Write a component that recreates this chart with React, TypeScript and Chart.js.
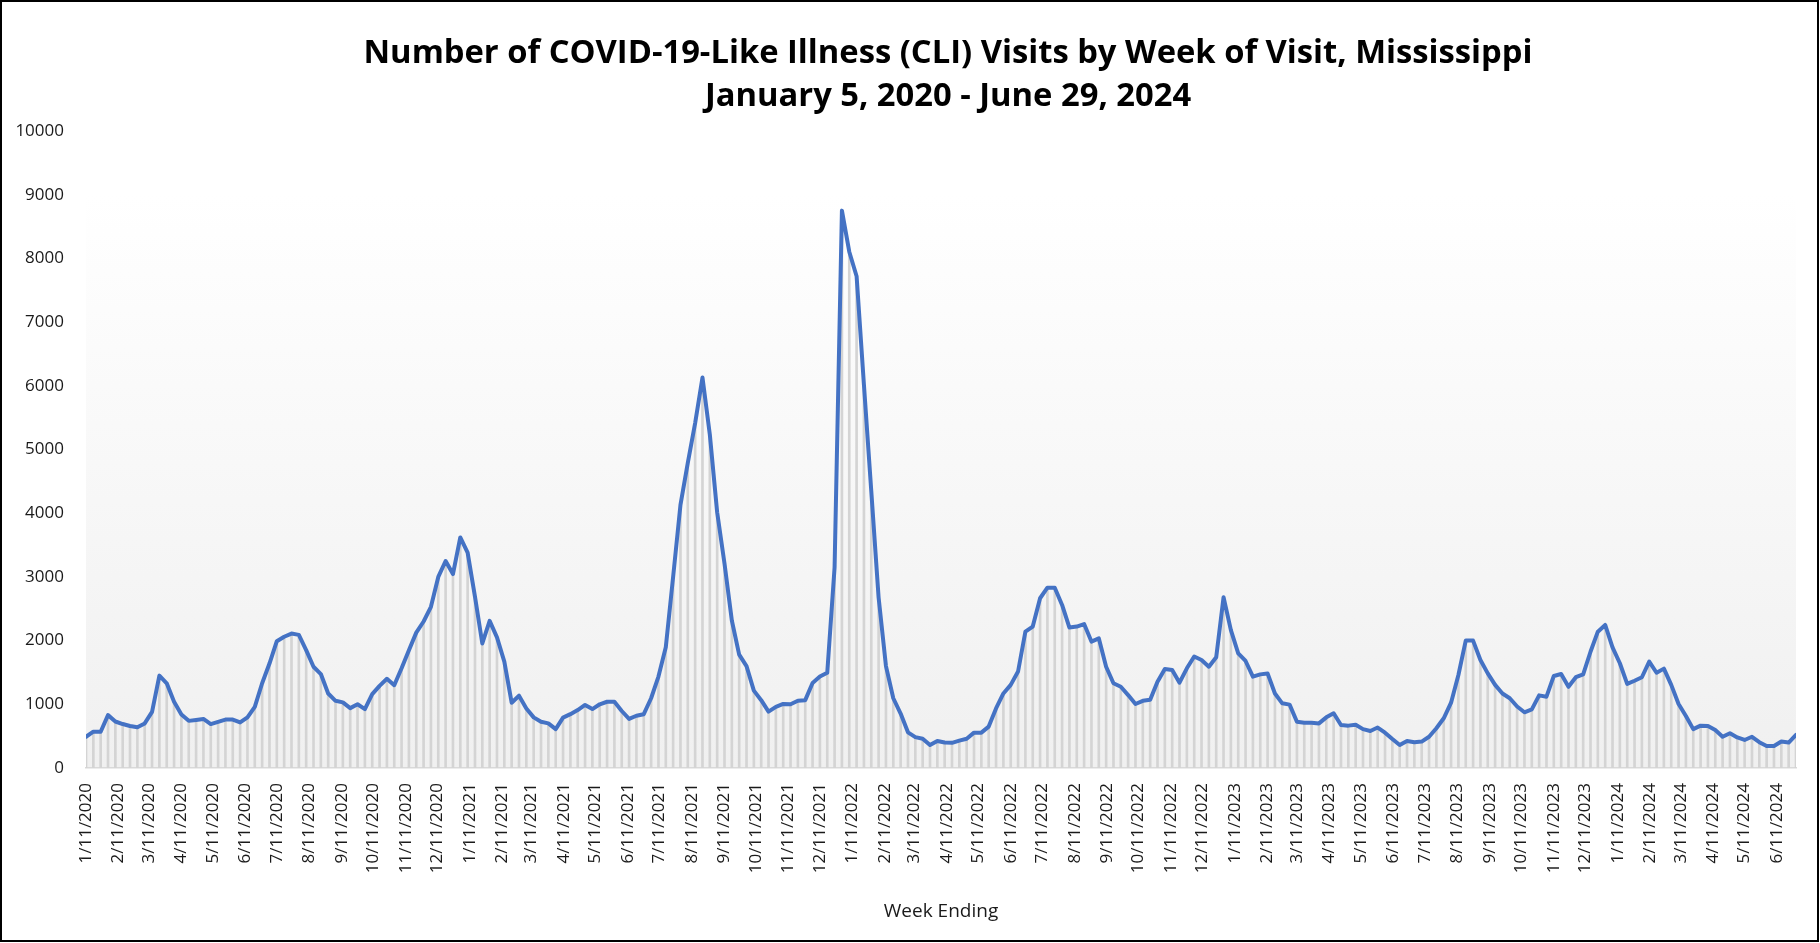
import React, { useEffect, useRef } from "react";
import { Chart, registerables } from "chart.js";

Chart.register(...registerables);

const TITLE_LINES = [
  "Number of COVID-19-Like Illness (CLI) Visits by Week of Visit, Mississippi",
  "January 5, 2020 - June 29, 2024",
];
const X_AXIS_TITLE = "Week Ending";

// first week-ending date of the series (weekly points follow every 7 days)
const FIRST_WEEK_ENDING = "1/11/2020";
const LAST_WEEK_ENDING = "6/29/2024";

const weeklyVisits = [
  490, 570, 570, 830, 730, 690, 660, 640, 700, 880,
  1450, 1330, 1040, 840, 740, 755, 770, 690, 725, 760,
  760, 715, 795, 960, 1330, 1640, 1990, 2060, 2110, 2090,
  1850, 1590, 1475, 1170, 1055, 1030, 940, 1000, 925, 1160,
  1290, 1400, 1300, 1565, 1850, 2125, 2300, 2530, 3000, 3250,
  3045, 3620, 3380, 2690, 1955, 2310, 2050, 1670, 1025, 1135,
  935, 795, 725, 700, 610, 790, 845, 910, 990, 925,
  1000, 1040, 1040, 895, 770, 820, 845, 1095, 1435, 1895,
  3000, 4130, 4790, 5415, 6130, 5235, 4015, 3210, 2315, 1780,
  1600, 1215, 1065, 885, 960, 1005, 1000, 1055, 1065, 1335,
  1435, 1495, 3150, 8750, 8105, 7720, 6015, 4345, 2675, 1600,
  1095, 855, 560, 485, 460, 360, 425, 400, 395, 430,
  460, 555, 555, 650, 935, 1170, 1305, 1515, 2140, 2220,
  2665, 2830, 2830, 2560, 2205, 2220, 2260, 1985, 2035, 1590,
  1330, 1275, 1145, 1005, 1055, 1070, 1355, 1555, 1540, 1340,
  1565, 1750, 1695, 1590, 1740, 2680, 2165, 1800, 1680, 1435,
  1470, 1485, 1170, 1015, 995, 725, 710, 710, 700, 795,
  860, 675, 665, 680, 610, 580, 635, 555, 455, 360,
  425, 405, 415, 490, 625, 780, 1025, 1460, 2000, 2000,
  1695, 1485, 1305, 1170, 1095, 965, 875, 920, 1140, 1120,
  1445, 1475, 1275, 1425, 1470, 1825, 2140, 2245, 1895, 1645,
  1320, 1370, 1425, 1670, 1495, 1560, 1305, 1005, 815, 610,
  665, 660, 595, 490, 545, 480, 440, 490, 405, 345,
  345, 415, 400, 520,
];

const monthTickLabels = [
  "1/11/2020", "2/11/2020", "3/11/2020", "4/11/2020", "5/11/2020", "6/11/2020",
  "7/11/2020", "8/11/2020", "9/11/2020", "10/11/2020", "11/11/2020", "12/11/2020",
  "1/11/2021", "2/11/2021", "3/11/2021", "4/11/2021", "5/11/2021", "6/11/2021",
  "7/11/2021", "8/11/2021", "9/11/2021", "10/11/2021", "11/11/2021", "12/11/2021",
  "1/11/2022", "2/11/2022", "3/11/2022", "4/11/2022", "5/11/2022", "6/11/2022",
  "7/11/2022", "8/11/2022", "9/11/2022", "10/11/2022", "11/11/2022", "12/11/2022",
  "1/11/2023", "2/11/2023", "3/11/2023", "4/11/2023", "5/11/2023", "6/11/2023",
  "7/11/2023", "8/11/2023", "9/11/2023", "10/11/2023", "11/11/2023", "12/11/2023",
  "1/11/2024", "2/11/2024", "3/11/2024", "4/11/2024", "5/11/2024", "6/11/2024",
];

const yTickValues = [0, 1000, 2000, 3000, 4000, 5000, 6000, 7000, 8000, 9000, 10000];
const yTickLabels = ["0", "1000", "2000", "3000", "4000", "5000", "6000", "7000", "8000", "9000", "10000"];

const FONT = "'Open Sans', 'Noto Sans', sans-serif";
const DAY_MS = 86400000;

function parseDate(label: string): number {
  const [m, d, y] = label.split("/").map(Number);
  return Date.UTC(y, m - 1, d);
}

export default function App() {
  const canvasRef = useRef<HTMLCanvasElement | null>(null);

  useEffect(() => {
    document.body.style.margin = "0";
    const canvas = canvasRef.current;
    if (!canvas) return;

    const start = parseDate(FIRST_WEEK_ENDING);
    const end = parseDate(LAST_WEEK_ENDING);
    const toDay = (label: string) => (parseDate(label) - start) / DAY_MS;
    const points = weeklyVisits.map((v, i) => ({ x: i * 7, y: v }));
    const tickDays = monthTickLabels.map(toDay);
    const labelByDay: Record<number, string> = {};
    tickDays.forEach((d, i) => (labelByDay[d] = monthTickLabels[i]));
    const yLabelByValue: Record<number, string> = {};
    yTickValues.forEach((v, i) => (yLabelByValue[v] = yTickLabels[i]));

    const backgroundPlugin = {
      id: "plotBackground",
      beforeDraw(chart: any) {
        const { ctx, chartArea } = chart;
        ctx.save();
        ctx.fillStyle = "#ffffff";
        ctx.fillRect(0, 0, chart.width, chart.height);
        const g = ctx.createLinearGradient(0, chartArea.top, 0, chartArea.bottom);
        g.addColorStop(0, "#ffffff");
        g.addColorStop(0.1, "#ffffff");
        g.addColorStop(1, "#f0f0f0");
        ctx.fillStyle = g;
        ctx.fillRect(chartArea.left, chartArea.top, chartArea.right - chartArea.left, chartArea.bottom - chartArea.top);
        ctx.restore();
      },
    };

    const titlePlugin = {
      id: "twoLineTitle",
      afterDraw(chart: any) {
        const { ctx } = chart;
        ctx.save();
        ctx.fillStyle = "#000000";
        ctx.textAlign = "center";
        ctx.textBaseline = "middle";
        ctx.font = `bold 32px ${FONT}`;
        const cx = 948;
        const ys = [54, 97];
        const target = 1169;
        const w0 = ctx.measureText(TITLE_LINES[0]).width;
        const sx = target / w0;
        TITLE_LINES.forEach((line, i) => {
          ctx.save();
          ctx.translate(cx, ys[i]);
          ctx.scale(sx, 1);
          ctx.fillText(line, 0, 0);
          ctx.restore();
        });
        ctx.restore();
      },
    };

    const chart = new Chart(canvas, {
      data: {
        datasets: [
          {
            type: "line",
            data: points,
            borderColor: "#4472C4",
            borderWidth: 4,
            pointRadius: 0,
            tension: 0,
            borderJoinStyle: "round",
            borderCapStyle: "round",
            order: 0,
          } as any,
          {
            type: "bar",
            data: points,
            backgroundColor: "#d4d4d4",
            barThickness: 2,
            order: 1,
          } as any,
        ],
      },
      options: {
        responsive: false,
        animation: false,
        events: [],
        layout: { padding: { top: 131, right: 24, left: 0, bottom: 0 } },
        plugins: {
          legend: { display: false },
          tooltip: { enabled: false },
          title: { display: false },
        },
        scales: {
          x: {
            type: "linear",
            min: 0,
            max: (end - start) / DAY_MS,
            offset: false,
            grid: { display: false, drawTicks: false },
            border: { display: true, color: "#d9d9d9", width: 1.5 },
            afterBuildTicks: (s: any) => {
              s.ticks = tickDays.map((v) => ({ value: v }));
            },
            ticks: {
              autoSkip: false,
              maxRotation: 90,
              minRotation: 90,
              padding: 15,
              color: "#1a1a1a",
              font: { family: FONT, size: 17 },
              callback: (v: any) => labelByDay[v as number] ?? "",
            },
            title: {
              display: true,
              text: X_AXIS_TITLE,
              color: "#1a1a1a",
              font: { family: FONT, size: 19 },
              padding: { top: 0, bottom: 20 },
            },
            afterFit: (s: any) => {
              s.height = 943 - 768;
            },
          },
          y: {
            min: 0,
            max: 10000,
            grid: { display: false, drawTicks: false },
            border: { display: false },
            afterBuildTicks: (s: any) => {
              s.ticks = yTickValues.map((v) => ({ value: v }));
            },
            ticks: {
              padding: 22,
              color: "#1a1a1a",
              font: { family: FONT, size: 17 },
              callback: (v: any) => yLabelByValue[v as number] ?? String(v),
            },
            afterFit: (s: any) => {
              s.width = 86;
            },
          },
        },
      } as any,
      plugins: [backgroundPlugin, titlePlugin],
    });

    return () => chart.destroy();
  }, []);

  return (
    <div style={{ position: "relative", width: 1820, height: 943 }}>
      <canvas ref={canvasRef} width={1820} height={943} style={{ display: "block" }} />
      <div
        style={{
          position: "absolute",
          left: 0,
          top: 0,
          width: 1819,
          height: 942,
          border: "2px solid #000",
          boxSizing: "border-box",
          pointerEvents: "none",
        }}
      />
    </div>
  );
}
